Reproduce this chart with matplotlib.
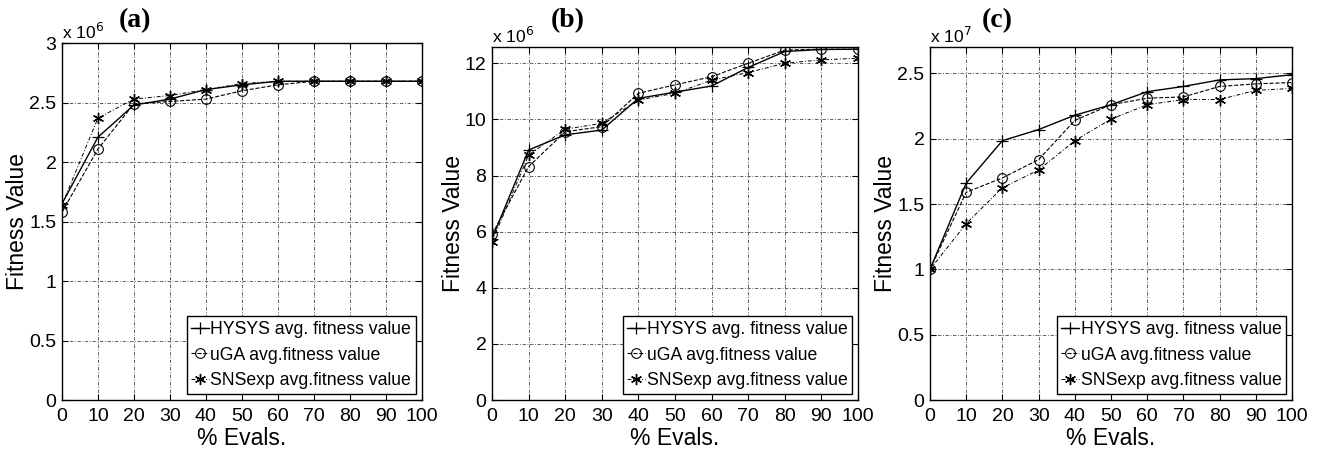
import matplotlib
matplotlib.use('Agg')
import matplotlib.pyplot as plt

plt.rcParams['font.family'] = ['Liberation Sans', 'DejaVu Sans']

# % evaluations
evals = [0, 10, 20, 30, 40, 50, 60, 70, 80, 90, 100]

# (a) values in units of 1e6
a_hysys = [1.65, 2.21, 2.48, 2.53, 2.61, 2.65, 2.68, 2.68, 2.68, 2.68, 2.68]
a_uga = [1.58, 2.11, 2.49, 2.51, 2.53, 2.60, 2.65, 2.68, 2.68, 2.68, 2.68]
a_sns = [1.64, 2.37, 2.53, 2.56, 2.61, 2.66, 2.68, 2.68, 2.68, 2.68, 2.68]

# (b) values in units of 1e6
b_hysys = [5.75, 8.91, 9.45, 9.62, 10.75, 10.97, 11.19, 11.85, 12.42, 12.49, 12.5]
b_uga = [5.9, 8.32, 9.56, 9.74, 10.93, 11.23, 11.52, 12.0, 12.47, 12.5, 12.5]
b_sns = [5.64, 8.73, 9.65, 9.86, 10.69, 10.93, 11.4, 11.67, 12.0, 12.12, 12.18]

# (c) values in units of 1e7
c_hysys = [1.0, 1.66, 1.985, 2.07, 2.18, 2.26, 2.36, 2.40, 2.45, 2.46, 2.49]
c_uga = [1.0, 1.59, 1.70, 1.84, 2.14, 2.26, 2.31, 2.32, 2.40, 2.42, 2.43]
c_sns = [1.0, 1.35, 1.625, 1.76, 1.985, 2.15, 2.26, 2.30, 2.30, 2.37, 2.385]

labels = ['HYSYS avg. fitness value', 'uGA avg.fitness value', 'SNSexp avg.fitness value']

panels = [
    ('(a)', a_hysys, a_uga, a_sns, 3.0, [0, 0.5, 1, 1.5, 2, 2.5, 3], ['0', '0.5', '1', '1.5', '2', '2.5', '3'], '6',
     [0.047, 0.111, 0.273, 0.793], 0.1024),
    ('(b)', b_hysys, b_uga, b_sns, 12.57, [0, 2, 4, 6, 8, 10, 12], ['0', '2', '4', '6', '8', '10', '12'], '6',
     [0.3733, 0.111, 0.2777, 0.784], 0.431),
    ('(c)', c_hysys, c_uga, c_sns, 2.7, [0, 0.5, 1, 1.5, 2, 2.5], ['0', '0.5', '1', '1.5', '2', '2.5'], '7',
     [0.7056, 0.111, 0.2747, 0.784], 0.7565),
]

fig = plt.figure(figsize=(13.18, 4.5), dpi=100)

grid_ls = (0, (4, 2, 1, 2))
star = (6, 2, 0)  # asterisk made of lines, like MATLAB '*'

for title, h, u, s, ymax, yt, ytl, expo, pos, tx in panels:
    ax = fig.add_axes(pos)
    ax.plot(evals, h, '-', color='k', lw=1.0, marker='+', ms=9, mew=0.9, label=labels[0])
    ax.plot(evals, u, '--', color='k', lw=0.8, marker='o', ms=7, mfc='none', mew=0.8, label=labels[1])
    ax.plot(evals, s, color='k', lw=0.7, ls=grid_ls, marker=star, ms=8, mew=1.0, label=labels[2])
    ax.set_xlim(0, 100)
    ax.set_ylim(0, ymax)
    ax.set_xticks(evals)
    ax.set_yticks(yt)
    ax.set_yticklabels(ytl)
    ax.grid(True, color='#444444', lw=0.6, ls=grid_ls)
    ax.tick_params(direction='in', top=True, right=True, labelsize=14, length=4, width=0.8, pad=4)
    ax.tick_params(axis='x', pad=6)
    for sp in ax.spines.values():
        sp.set_linewidth(1.0)
    ax.set_xlabel('% Evals.', fontsize=16.5, labelpad=1)
    ax.set_ylabel('Fitness Value', fontsize=16.5, labelpad=0)
    ax.text(0.0, 1.003, 'x 10$^{%s}$' % expo, transform=ax.transAxes, fontsize=12.5, ha='left', va='bottom')
    fig.text(tx, 1 - 33 / 450, title, fontsize=20, fontweight='bold',
             family='Liberation Serif', ha='center', va='bottom')
    leg = ax.legend(loc='lower right', fontsize=12.7, handlelength=1.0, handletextpad=0.1,
                    borderpad=0.25, labelspacing=0.5, borderaxespad=0.35, fancybox=False,
                    framealpha=1, edgecolor='k')
    leg.get_frame().set_linewidth(1.0)

fig.savefig('out.png', dpi=100)
